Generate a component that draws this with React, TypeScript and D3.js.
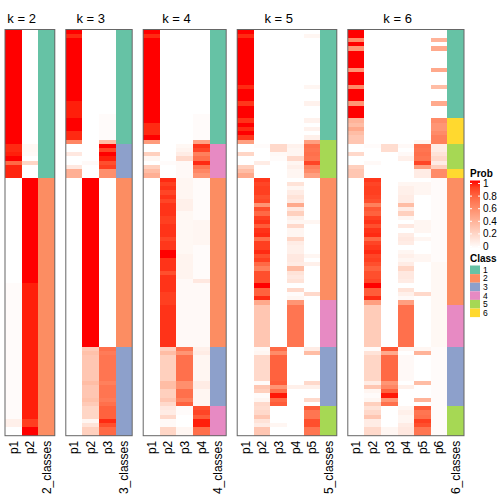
import React from "react";
import * as d3 from "d3";

type Run = [number, number]; // [value, number of consecutive rows]

const kValues = [2, 3, 4, 5, 6];
const classColors = ["#66C2A5", "#FC8D62", "#8DA0CB", "#E78AC3", "#A6D854", "#FFD92F"];
const classLabels = ["1", "2", "3", "4", "5", "6"];
const probTicks = [0, 0.2, 0.4, 0.6, 0.8, 1];

// class assignment per row (run-length: [class, count])
const classesK2: Run[] = [[1, 35], [2, 61]];
const classesK3: Run[] = [[1, 27], [3, 8], [2, 40], [3, 21]];
const classesK4: Run[] = [[1, 27], [4, 8], [2, 40], [3, 14], [4, 7]];
const classesK5: Run[] = [[1, 26], [5, 9], [2, 29], [4, 11], [3, 14], [5, 7]];
const classesK6: Run[] = [[1, 21], [6, 6], [5, 6], [6, 2], [2, 30], [4, 10], [3, 14], [5, 7]];

// membership probabilities per column (run-length: [prob, count])
const k2p1: Run[] = [[1, 27], [0.95, 2], [0.97, 1], [1, 1], [0.75, 1], [0.96, 3], [0, 25], [0.02, 32], [0.08, 2], [0, 2]];
const k2p2: Run[] = [[0, 27], [0.04, 2], [0.03, 1], [0, 1], [0.22, 1], [0, 3], [1, 25], [0.97, 32], [0.9, 2], [1, 2]];

const k3p1: Run[] = [[1, 1], [0.95, 1], [1, 15], [0.97, 4], [1, 3], [0.95, 2], [0.62, 1], [0, 2], [0.12, 1], [0, 2], [0.12, 1], [0.42, 2], [0, 61]];
const k3p2: Run[] = [[0, 31], [0.03, 1], [0, 3], [1, 40], [0.28, 1], [0.33, 1], [0.3, 6], [0.35, 1], [0.3, 3], [0.33, 1], [0.28, 1], [0.22, 3], [0.05, 1], [0.15, 1], [0.25, 2]];
const k3p3: Run[] = [[0, 20], [0.02, 6], [0.35, 1], [1, 1], [0.88, 1], [1, 1], [0.97, 1], [0.85, 1], [0.9, 1], [0.58, 2], [0, 40], [0.72, 1], [0.67, 1], [0.7, 6], [0.65, 1], [0.7, 3], [0.67, 1], [0.72, 1], [0.78, 3], [0.95, 1], [0.85, 1], [0.75, 2]];

const k4p1: Run[] = [[1, 1], [0.95, 1], [1, 20], [0.95, 3], [1, 1], [0.52, 1], [0, 2], [0.25, 1], [0.05, 1], [0, 1], [0.25, 1], [0.35, 1], [0.42, 1], [0, 61]];
const k4p2: Run[] = [[0, 31], [0.02, 1], [0, 3], [0.95, 1], [0.9, 1], [0.93, 1], [0.88, 1], [0.93, 1], [0.88, 1], [0.93, 3], [0.9, 2], [0.93, 3], [0.88, 1], [0.92, 2], [1, 2], [0.93, 3], [0.85, 1], [0.93, 4], [0.9, 3], [0.93, 10], [0.25, 1], [0.35, 1], [0.25, 6], [0.35, 2], [0.25, 2], [0.3, 1], [0.2, 1], [0.12, 1], [0.1, 1], [0.2, 1], [0.03, 2], [0.22, 2]];
const k4p3: Run[] = [[0, 27], [0.04, 1], [0.06, 1], [0.1, 1], [0.2, 1], [0.03, 4], [0.05, 5], [0.08, 3], [0.04, 10], [0.06, 6], [0.03, 16], [0.7, 1], [0.55, 1], [0.72, 6], [0.58, 2], [0.72, 2], [0.65, 1], [0.78, 1], [0.02, 2], [0, 3], [0.05, 2]];
const k4p4: Run[] = [[0, 20], [0.02, 6], [0.48, 1], [0.93, 1], [0.88, 1], [0.65, 1], [0.72, 1], [0.95, 1], [0.7, 1], [0.62, 1], [0.55, 1], [0.02, 10], [0.05, 6], [0.02, 8], [0.12, 1], [0.03, 15], [0.08, 1], [0.1, 1], [0.05, 6], [0.1, 2], [0.05, 4], [0.85, 1], [0.88, 1], [0.8, 1], [0.97, 2], [0.73, 2]];

const k5p1: Run[] = [[1, 1], [0.95, 1], [1, 11], [0.95, 1], [1, 3], [0.92, 1], [1, 3], [0.93, 1], [1, 1], [0.95, 1], [1, 1], [0.92, 1], [0.5, 1], [0, 2], [0.22, 1], [0, 2], [0.25, 1], [0.35, 1], [0.45, 1], [0, 61]];
const k5p2: Run[] = [[0, 27], [0.02, 1], [0, 3], [0.1, 1], [0, 3], [0.92, 1], [0.88, 1], [0.9, 2], [0.85, 1], [0.87, 1], [0.55, 1], [0.85, 1], [0.75, 1], [0.9, 1], [0.93, 1], [0.8, 1], [0.93, 1], [0.95, 1], [0.72, 1], [0.9, 2], [0.95, 1], [0.85, 1], [0.9, 1], [0.75, 1], [0.65, 1], [0.85, 3], [1, 1], [0.78, 2], [0.95, 1], [0.45, 1], [0.3, 10], [0.03, 1], [0.05, 1], [0.2, 6], [0.02, 1], [0.3, 1], [0.25, 1], [0.02, 1], [0.05, 1], [0.2, 1], [0.18, 1], [0.2, 1], [0.3, 1], [0.15, 1], [0.1, 1], [0.3, 2]];
const k5p3: Run[] = [[0, 27], [0.2, 2], [0.03, 1], [0.02, 1], [0, 44], [0.75, 1], [0.6, 1], [0.78, 6], [0.8, 1], [0.55, 1], [0.72, 1], [0.98, 1], [0.75, 1], [0.8, 1], [0, 4], [0.05, 1], [0, 2]];
const k5p4: Run[] = [[0, 27], [0.07, 1], [0.05, 2], [0.2, 1], [0.05, 1], [0.08, 1], [0.05, 2], [0, 1], [0.15, 1], [0.05, 1], [0.1, 1], [0.15, 1], [0.12, 1], [0.45, 1], [0.12, 1], [0.25, 1], [0.08, 1], [0.05, 1], [0.2, 1], [0.05, 2], [0.22, 1], [0.1, 1], [0.08, 2], [0.12, 2], [0.1, 1], [0.35, 1], [0.15, 1], [0.12, 1], [0.15, 1], [0, 1], [0.2, 1], [0.02, 1], [0.05, 1], [0.55, 1], [0.7, 10], [0, 9], [0.08, 1], [0, 11]];
const k5p5: Run[] = [[0, 1], [0.05, 1], [0, 11], [0.05, 1], [0, 3], [0.07, 1], [0, 3], [0.07, 1], [0, 1], [0.07, 1], [0, 1], [0.08, 1], [0.5, 1], [0.72, 1], [0.7, 1], [0.72, 1], [0.7, 1], [0.88, 1], [0.65, 1], [0.6, 1], [0.5, 1], [0, 10], [0.05, 1], [0, 7], [0.05, 1], [0, 1], [0.08, 1], [0, 6], [0.2, 1], [0, 12], [0.1, 1], [0.35, 1], [0, 6], [0.2, 1], [0.08, 1], [0, 2], [0.2, 1], [0, 1], [0.8, 1], [0.7, 2], [0.85, 2], [0.7, 2]];

const k6p1: Run[] = [[1, 2], [0.6, 1], [1, 1], [0.55, 1], [1, 4], [0.55, 1], [1, 3], [0.6, 1], [1, 3], [0.55, 1], [1, 3], [0.4, 1], [0.35, 1], [0.45, 1], [0.35, 1], [0.3, 2], [0, 2], [0.2, 1], [0, 2], [0.25, 1], [0.3, 2], [0, 61]];
const k6p2: Run[] = [[0, 27], [0.02, 1], [0, 3], [0.03, 1], [0, 3], [0.92, 1], [0.88, 1], [0.9, 2], [0.88, 1], [0.85, 1], [0.65, 1], [0.82, 1], [0.78, 1], [0.9, 1], [0.93, 1], [0.85, 1], [0.93, 1], [0.95, 1], [0.75, 1], [0.88, 1], [0.92, 1], [0.95, 1], [0.88, 1], [0.9, 1], [0.85, 1], [0.78, 1], [0.85, 2], [0.88, 1], [1, 1], [0.8, 2], [0.95, 1], [0.5, 1], [0.27, 10], [0.02, 1], [0.15, 1], [0.22, 6], [0.1, 1], [0.3, 1], [0.05, 1], [0.02, 1], [0.05, 1], [0.25, 1], [0.15, 1], [0.2, 1], [0.3, 1], [0.1, 2], [0.2, 2]];
const k6p3: Run[] = [[0, 27], [0.18, 2], [0, 46], [0.82, 1], [0.45, 1], [0.75, 6], [0.55, 1], [0.62, 1], [0.78, 1], [0.98, 1], [0.55, 1], [0.72, 1], [0, 5], [0.05, 2]];
const k6p4: Run[] = [[0, 27], [0.03, 1], [0, 1], [0.03, 1], [0.08, 1], [0, 4], [0, 1], [0.05, 1], [0.08, 2], [0.1, 2], [0.35, 1], [0.1, 1], [0.25, 1], [0.05, 1], [0, 1], [0.12, 1], [0, 1], [0.1, 1], [0.12, 1], [0.1, 1], [0, 1], [0.05, 1], [0.08, 1], [0.05, 1], [0.1, 1], [0.22, 1], [0.12, 2], [0.1, 1], [0, 1], [0.15, 1], [0.08, 1], [0.03, 1], [0.5, 1], [0.72, 10], [0.05, 1], [0, 1], [0.03, 6], [0, 1], [0.08, 1], [0, 4], [0.05, 1], [0.08, 1], [0.05, 2], [0.1, 1], [0.12, 2]];
const k6p5: Run[] = [[0, 26], [0.05, 1], [0.72, 1], [0.7, 1], [0.72, 1], [0.7, 1], [0.88, 1], [0.5, 1], [0.1, 2], [0, 1], [0.05, 3], [0, 6], [0.05, 3], [0, 1], [0.05, 1], [0, 3], [0.05, 2], [0, 7], [0.2, 1], [0, 12], [0.05, 1], [0.4, 1], [0, 6], [0.35, 1], [0, 3], [0.4, 1], [0, 1], [0.8, 1], [0.7, 1], [0.72, 1], [0.9, 1], [0.85, 1], [0.7, 2]];
const k6p6: Run[] = [[0, 2], [0.4, 1], [0, 1], [0.45, 1], [0, 4], [0.45, 1], [0, 3], [0.35, 1], [0, 3], [0.45, 1], [0, 3], [0.6, 1], [0.55, 2], [0.6, 1], [0.65, 2], [0.1, 2], [0.15, 1], [0.2, 1], [0.1, 1], [0.25, 1], [0.6, 2], [0.02, 20], [0.04, 20], [0.02, 21]];

const probsByK: Run[][][] = [
  [k2p1, k2p2],
  [k3p1, k3p2, k3p3],
  [k4p1, k4p2, k4p3, k4p4],
  [k5p1, k5p2, k5p3, k5p4, k5p5],
  [k6p1, k6p2, k6p3, k6p4, k6p5, k6p6],
];
const classesByK: Run[][] = [classesK2, classesK3, classesK4, classesK5, classesK6];

const expand = (runs: Run[]): number[] => runs.flatMap(([v, n]) => Array(n).fill(v));

const FONT = "'Liberation Sans', Arial, Helvetica, sans-serif";

export default function App() {
  const W = 504;
  const H = 504;
  const top = 29.5;
  const bottom = 435.7;
  const left = 5;
  const colW = 16.6;
  const gap = 11;

  const nRows = expand(classesK2).length;
  const y = d3.scaleBand<number>().domain(d3.range(nRows)).range([top, bottom]);
  const color = d3
    .scaleLinear<string>()
    .domain([0, 1])
    .range(["#ffffff", "#ff0000"])
    .interpolate(d3.interpolateLab);

  let cursor = left;
  const panels = kValues.map((k, i) => {
    const probs = probsByK[i].map(expand);
    const cls = expand(classesByK[i]);
    const cols = [...probs.map((_, j) => `p${j + 1}`), `${k}_classes`];
    const x0 = cursor;
    const x = d3.scaleBand<string>().domain(cols).range([x0, x0 + cols.length * colW]);
    cursor += cols.length * colW + gap;
    return { k, probs, cls, cols, x };
  });

  // legend
  const legX = 470;
  const legW = 10;
  const legScale = d3.scaleLinear().domain([0, 1]).range([246.5, 183.5]);
  const barTop = 180.5;
  const barBottom = 248.5;
  const classY = d3.scaleBand<string>().domain(classLabels).range([265.5, 265.5 + 6 * 8.6]);

  return (
    <svg
      width={W}
      height={H}
      style={{ position: "absolute", left: 0, top: 0, background: "#fff" }}
      fontFamily={FONT}
    >
      <defs>
        <linearGradient id="probGrad" x1="0" y1="1" x2="0" y2="0">
          {d3.range(0, 1.0001, 0.1).map((t) => (
            <stop key={t} offset={`${t * 100}%`} stopColor={color(t)} />
          ))}
        </linearGradient>
      </defs>
      {panels.map((p) => {
        const probCols = p.cols.slice(0, -1);
        const classCol = p.cols[p.cols.length - 1];
        const xStart = p.x(probCols[0])!;
        const xProbEnd = p.x(probCols[probCols.length - 1])! + p.x.bandwidth();
        const xEnd = p.x(classCol)! + p.x.bandwidth();
        return (
          <g key={p.k}>
            <text
              x={(xStart + xProbEnd) / 2}
              y={23}
              textAnchor="middle"
              fontSize={13}
              fill="#000"
            >
              {`k = ${p.k}`}
            </text>
            <g shapeRendering="crispEdges">
              {p.probs.map((vals, j) =>
                vals.map((v, r) => (
                  <rect
                    key={`${j}-${r}`}
                    x={p.x(probCols[j])}
                    y={y(r)}
                    width={p.x.bandwidth()}
                    height={y.bandwidth()}
                    fill={color(v)}
                  />
                ))
              )}
              {p.cls.map((c, r) => (
                <rect
                  key={`c-${r}`}
                  x={p.x(classCol)}
                  y={y(r)}
                  width={p.x.bandwidth()}
                  height={y.bandwidth()}
                  fill={classColors[c - 1]}
                />
              ))}
            </g>
            <rect
              x={xStart}
              y={top}
              width={xEnd - xStart}
              height={bottom - top}
              fill="none"
              stroke="#666"
              strokeWidth={1}
            />
            {p.cols.map((c) => {
              const cx = p.x(c)! + p.x.bandwidth() / 2;
              return (
                <text
                  key={c}
                  transform={`translate(${cx + 4.3},${bottom + 5}) rotate(-90)`}
                  textAnchor="end"
                  fontSize={12}
                  fill="#000"
                >
                  {c}
                </text>
              );
            })}
          </g>
        );
      })}

      {/* Prob legend */}
      <text x={legX} y={177} fontSize={10} fontWeight="bold" fill="#000">
        Prob
      </text>
      <rect x={legX} y={barTop} width={legW} height={barBottom - barTop} fill="url(#probGrad)" />
      {probTicks.map((t) => (
        <g key={t}>
          <line x1={legX} x2={legX + 2} y1={legScale(t)} y2={legScale(t)} stroke="#fff" strokeWidth={1} />
          <line x1={legX + legW - 2} x2={legX + legW} y1={legScale(t)} y2={legScale(t)} stroke="#fff" strokeWidth={1} />
          <text x={legX + legW + 3} y={legScale(t)} dy="0.35em" fontSize={10} fill="#000">
            {String(t)}
          </text>
        </g>
      ))}

      {/* Class legend */}
      <text x={legX} y={262} fontSize={10} fontWeight="bold" fill="#000">
        Class
      </text>
      {classLabels.map((c, i) => (
        <g key={c}>
          <rect x={legX} y={classY(c)} width={legW} height={classY.bandwidth()} fill={classColors[i]} />
          <text
            x={legX + legW + 3}
            y={classY(c)! + classY.bandwidth() / 2}
            dy="0.35em"
            fontSize={8.5}
            fill="#000"
          >
            {c}
          </text>
        </g>
      ))}
    </svg>
  );
}
